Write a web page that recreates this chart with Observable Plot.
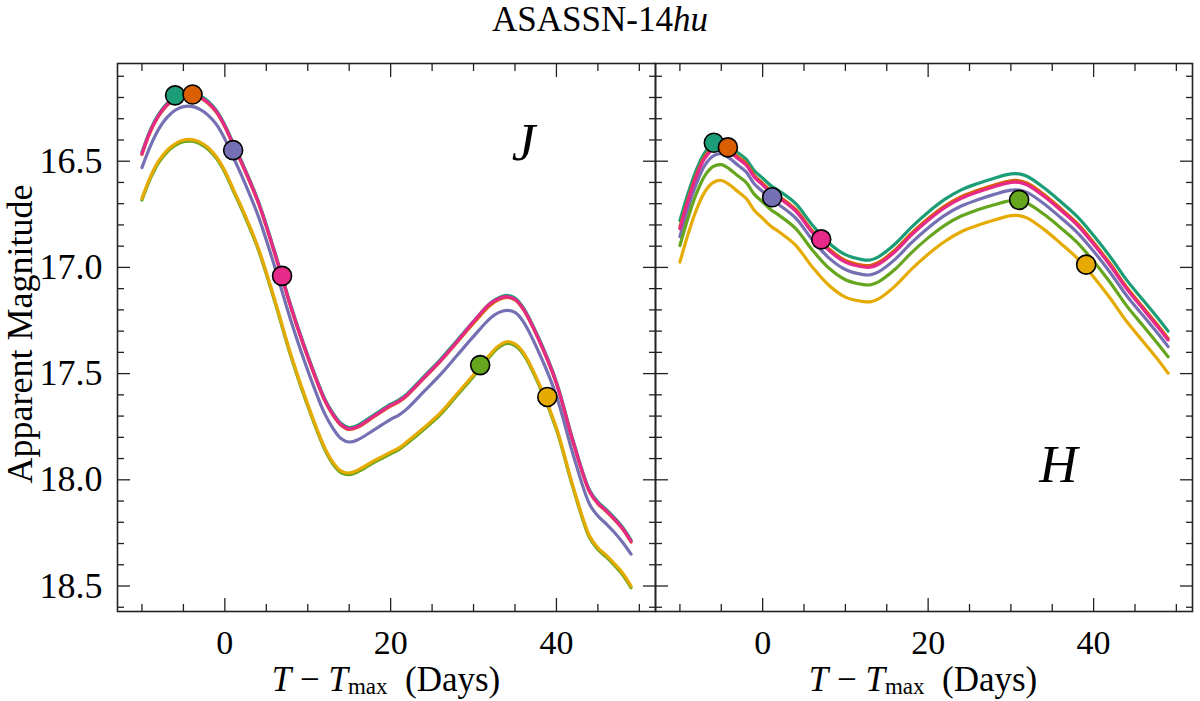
<!DOCTYPE html>
<html>
<head>
<meta charset="utf-8">
<script src="https://cdn.jsdelivr.net/npm/d3@7"></script>
<script src="https://cdn.jsdelivr.net/npm/@observablehq/plot@0.6"></script>
<style>
  body { margin: 0; background: #fff; font-family: "Liberation Serif", serif; color: #000; }
  #fig { position: relative; width: 1200px; height: 701px; }
  #title { position: absolute; left: 0; top: 0; width: 1200px; text-align: center; font-size: 35px; line-height: 39px; }
  .xlab { position: absolute; top: 663px; width: 540px; text-align: center; font-size: 35px; line-height: 34px; white-space: nowrap; }
  .xlab .sb { font-size: 23px; vertical-align: -3px; }
  #ylab { position: absolute; left: -180px; top: 314px; width: 400px; text-align: center; font-size: 36px; line-height: 40px; transform: rotate(-90deg); }
  #left, #right { position: absolute; top: 40px; }
  #left { left: 0; }
  #right { left: 655px; }
  svg { overflow: visible; }
</style>
</head>
<body>
<div id="fig">
  <div id="title">ASASSN-14<i>hu</i></div>
  <div id="left"></div>
  <div id="right"></div>
  <div id="ylab">Apparent Magnitude</div>
  <div class="xlab" style="left:116px"><i>T</i>&#8197;&#8722;&#8197;<i>T</i><span class="sb">max</span>&nbsp;&nbsp;(Days)</div>
  <div class="xlab" style="left:653px"><i>T</i>&#8197;&#8722;&#8197;<i>T</i><span class="sb">max</span>&nbsp;&nbsp;(Days)</div>
</div>
<script>
// ticks
const xMajor = [0, 20, 40];
const xMinor = [-10, -5, 5, 10, 15, 25, 30, 35, 45, 50];
const yMajor = [16.5, 17.0, 17.5, 18.0, 18.5];
const yMinor = [16.1, 16.2, 16.3, 16.4, 16.6, 16.7, 16.8, 16.9, 17.1, 17.2, 17.3, 17.4,
                17.6, 17.7, 17.8, 17.9, 18.1, 18.2, 18.3, 18.4, 18.6];
const xDomain = [-12.95, 51.95];
const yDomain = [16.04, 18.62];

const seriesNames = ["teal", "orange", "purple", "pink", "green", "gold"];
const seriesColors = ["#1b9e77", "#d95f02", "#7570b3", "#e7298a", "#66a61e", "#e6ab02"];

// J band
const daysJ = [-10, -9, -8, -7, -6, -5, -4, -3, -2, -1, 0, 1, 2, 4, 6, 8, 10, 12, 13, 14, 15, 16,
               18, 20, 21, 22, 24, 26, 28, 30, 32, 33, 34, 35, 36, 38, 40, 42, 44, 45, 46, 47, 48, 49];
const tealJ = [16.458, 16.354, 16.279, 16.229, 16.197, 16.182, 16.179, 16.192, 16.219, 16.262, 16.329,
               16.414, 16.499, 16.684, 16.924, 17.184, 17.414, 17.614, 17.684, 17.734, 17.754, 17.744,
               17.694, 17.644, 17.624, 17.594, 17.514, 17.434, 17.344, 17.254, 17.169, 17.144, 17.132,
               17.144, 17.189, 17.344, 17.539, 17.814, 18.049, 18.104, 18.139, 18.179, 18.224, 18.284];
const orangeJ = [16.468, 16.363, 16.288, 16.238, 16.206, 16.191, 16.188, 16.201, 16.228, 16.271, 16.338,
                 16.423, 16.508, 16.693, 16.933, 17.193, 17.423, 17.623, 17.693, 17.743, 17.763, 17.753,
                 17.703, 17.653, 17.633, 17.603, 17.523, 17.443, 17.353, 17.263, 17.178, 17.153, 17.141,
                 17.153, 17.198, 17.353, 17.548, 17.823, 18.058, 18.113, 18.148, 18.188, 18.233, 18.293];
const purpleJ = [16.53, 16.43, 16.35, 16.295, 16.26, 16.243, 16.242, 16.256, 16.284, 16.328, 16.395,
                 16.48, 16.565, 16.755, 16.995, 17.255, 17.485, 17.685, 17.755, 17.805, 17.822, 17.812,
                 17.765, 17.715, 17.695, 17.665, 17.585, 17.505, 17.415, 17.325, 17.24, 17.213, 17.202,
                 17.212, 17.255, 17.41, 17.605, 17.88, 18.115, 18.17, 18.207, 18.248, 18.295, 18.35];
const pinkJ = [16.465, 16.36, 16.285, 16.235, 16.203, 16.188, 16.185, 16.198, 16.225, 16.268, 16.335,
               16.42, 16.505, 16.69, 16.93, 17.19, 17.42, 17.62, 17.69, 17.74, 17.76, 17.75,
               17.70, 17.65, 17.63, 17.60, 17.52, 17.44, 17.35, 17.255, 17.17, 17.148, 17.138,
               17.15, 17.195, 17.35, 17.545, 17.82, 18.055, 18.11, 18.145, 18.185, 18.23, 18.29];
const greenJ = [16.683, 16.583, 16.508, 16.458, 16.426, 16.408, 16.406, 16.418, 16.445, 16.488, 16.553,
                16.638, 16.723, 16.913, 17.158, 17.423, 17.653, 17.853, 17.923, 17.966, 17.976, 17.963,
                17.918, 17.878, 17.858, 17.828, 17.763, 17.693, 17.603, 17.513, 17.418, 17.378, 17.358,
                17.368, 17.408, 17.563, 17.763, 18.038, 18.273, 18.328, 18.363, 18.403, 18.448, 18.508];
const goldJ = [16.675, 16.575, 16.50, 16.45, 16.418, 16.40, 16.398, 16.41, 16.437, 16.48, 16.545,
               16.63, 16.715, 16.905, 17.15, 17.415, 17.645, 17.845, 17.915, 17.958, 17.968, 17.955,
               17.91, 17.87, 17.85, 17.82, 17.755, 17.685, 17.595, 17.505, 17.41, 17.37, 17.35,
               17.36, 17.40, 17.555, 17.755, 18.03, 18.265, 18.32, 18.355, 18.395, 18.44, 18.50];
const markDaysJ = [-6.0, -3.9, 1.0, 6.9, 30.8, 38.9];
const markMagsJ = [16.19, 16.186, 16.448, 17.04, 17.46, 17.61];

// H band
const daysH = [-10, -9, -8, -7, -6, -5, -4, -3, -2, -1, 0, 1, 2, 4, 6, 8, 10, 12, 13, 14,
               16, 18, 20, 22, 24, 26, 28, 30, 31, 32, 34, 36, 38, 40, 42, 44, 46, 48, 49];
const tealH = [16.78, 16.65, 16.54, 16.46, 16.42, 16.41, 16.43, 16.46, 16.49, 16.545, 16.58, 16.615,
               16.64, 16.70, 16.80, 16.885, 16.94, 16.963, 16.965, 16.95, 16.89, 16.81, 16.74, 16.68,
               16.635, 16.605, 16.58, 16.56, 16.56, 16.572, 16.625, 16.69, 16.76, 16.85, 16.95, 17.06,
               17.155, 17.25, 17.30];
const orangeH = [16.81, 16.677, 16.562, 16.479, 16.436, 16.426, 16.447, 16.479, 16.51, 16.567, 16.604,
                 16.64, 16.666, 16.727, 16.828, 16.912, 16.967, 16.989, 16.991, 16.977, 16.918, 16.839,
                 16.77, 16.711, 16.667, 16.637, 16.612, 16.592, 16.592, 16.604, 16.657, 16.722, 16.792,
                 16.883, 16.983, 17.093, 17.189, 17.284, 17.334];
const purpleH = [16.855, 16.72, 16.605, 16.52, 16.476, 16.465, 16.486, 16.518, 16.55, 16.607, 16.643,
                 16.68, 16.706, 16.768, 16.87, 16.955, 17.01, 17.033, 17.035, 17.021, 16.962, 16.883,
                 16.814, 16.755, 16.711, 16.681, 16.656, 16.636, 16.636, 16.648, 16.70, 16.765, 16.835,
                 16.924, 17.024, 17.133, 17.228, 17.323, 17.373];
const pinkH = [16.818, 16.685, 16.57, 16.487, 16.444, 16.434, 16.455, 16.487, 16.518, 16.575, 16.612,
               16.648, 16.674, 16.735, 16.836, 16.92, 16.975, 16.997, 16.999, 16.985, 16.926, 16.847,
               16.778, 16.719, 16.675, 16.645, 16.62, 16.60, 16.60, 16.612, 16.665, 16.73, 16.80,
               16.891, 16.991, 17.101, 17.197, 17.292, 17.342];
const greenH = [16.897, 16.765, 16.652, 16.569, 16.526, 16.516, 16.537, 16.569, 16.6, 16.656, 16.692,
                16.728, 16.755, 16.817, 16.918, 17.003, 17.058, 17.08, 17.082, 17.068, 17.009, 16.93,
                16.861, 16.802, 16.758, 16.729, 16.705, 16.686, 16.686, 16.698, 16.75, 16.813, 16.882,
                16.971, 17.071, 17.181, 17.276, 17.371, 17.421];
const goldH = [16.975, 16.842, 16.728, 16.645, 16.601, 16.591, 16.611, 16.643, 16.675, 16.732, 16.769,
               16.806, 16.833, 16.896, 16.998, 17.084, 17.14, 17.16, 17.162, 17.148, 17.088, 17.008,
               16.938, 16.878, 16.832, 16.802, 16.777, 16.756, 16.756, 16.768, 16.821, 16.886, 16.956,
               17.045, 17.145, 17.255, 17.35, 17.446, 17.498];
const markDaysH = [-5.9, -4.2, 1.15, 7.08, 31.0, 39.1];
const markMagsH = [16.413, 16.435, 16.67, 16.868, 16.682, 16.987];

const serif = "Liberation Serif, serif";
const ink = "#222";

function curveMarks(days, curves) {
  return curves.map((mags, i) => Plot.line(days.map((d, j) => ({day: d, mag: mags[j]})), {
    x: "day", y: "mag", stroke: seriesColors[i], strokeWidth: 3.2, curve: "catmull-rom"
  }));
}

function tickMarks(yLabels) {
  const blank = () => "";
  const marks = [];
  for (const anchor of ["bottom", "top"]) {
    marks.push(Plot.axisX({anchor, ticks: xMajor, tickSize: -13, tickFormat: blank, label: null, stroke: ink, strokeWidth: 1.3}));
    marks.push(Plot.axisX({anchor, ticks: xMinor, tickSize: -7, tickFormat: blank, label: null, stroke: ink, strokeWidth: 1.3}));
  }
  for (const anchor of ["left", "right"]) {
    marks.push(Plot.axisY({anchor, ticks: yMajor, tickSize: -13, tickFormat: blank, label: null, stroke: ink, strokeWidth: 1.3}));
    marks.push(Plot.axisY({anchor, ticks: yMinor, tickSize: -7, tickFormat: blank, label: null, stroke: ink, strokeWidth: 1.3}));
  }
  marks.push(Plot.axisX({anchor: "bottom", ticks: xMajor, tickSize: 0, tickPadding: 18, label: null,
    fontSize: 34, fill: "#000"}));
  if (yLabels) {
    marks.push(Plot.axisY({anchor: "left", ticks: yMajor, tickSize: 0, tickPadding: 15,
      tickFormat: d3.format(".1f"), label: null, fill: "#000"}));
  }
  return marks;
}

function panel(opts) {
  const marks = curveMarks(opts.days, opts.curves);
  marks.push(Plot.dot(opts.markDays.map((d, i) => ({day: d, mag: opts.markMags[i], c: seriesColors[i]})), {
    x: "day", y: "mag", r: 9.5, fill: "c", stroke: "#000", strokeWidth: 1.6
  }));
  marks.push(Plot.text([opts.band], {
    text: d => d, frameAnchor: "top-right", dx: opts.labelDx, dy: opts.labelDy,
    fontSize: 53, fontStyle: "italic", textAnchor: "middle", lineAnchor: "middle", fill: "#000"
  }));
  marks.push(Plot.frame({stroke: ink, strokeWidth: 1.6}));
  marks.push(...tickMarks(opts.yLabels));
  return Plot.plot({
    width: opts.width,
    height: 661,
    marginLeft: opts.marginLeft,
    marginRight: opts.marginRight,
    marginTop: 23,
    marginBottom: 90,
    x: {domain: xDomain},
    y: {domain: yDomain, reverse: true},
    color: {type: "identity"},
    style: {fontFamily: serif, fontSize: "36px", color: "#000", background: "transparent"},
    marks
  });
}

const chartJ = panel({
  band: "J", days: daysJ,
  curves: [tealJ, orangeJ, purpleJ, pinkJ, greenJ, goldJ],
  markDays: markDaysJ, markMags: markMagsJ,
  width: 655, marginLeft: 117, marginRight: 0,
  labelDx: -132, labelDy: 80, yLabels: true
});
const chartH = panel({
  band: "H", days: daysH,
  curves: [tealH, orangeH, purpleH, pinkH, greenH, goldH],
  markDays: markDaysH, markMags: markMagsH,
  width: 545, marginLeft: 0, marginRight: 8,
  labelDx: -134, labelDy: 402, yLabels: false
});

d3.select("#left").append(() => chartJ);
d3.select("#right").append(() => chartH);
</script>
</body>
</html>
